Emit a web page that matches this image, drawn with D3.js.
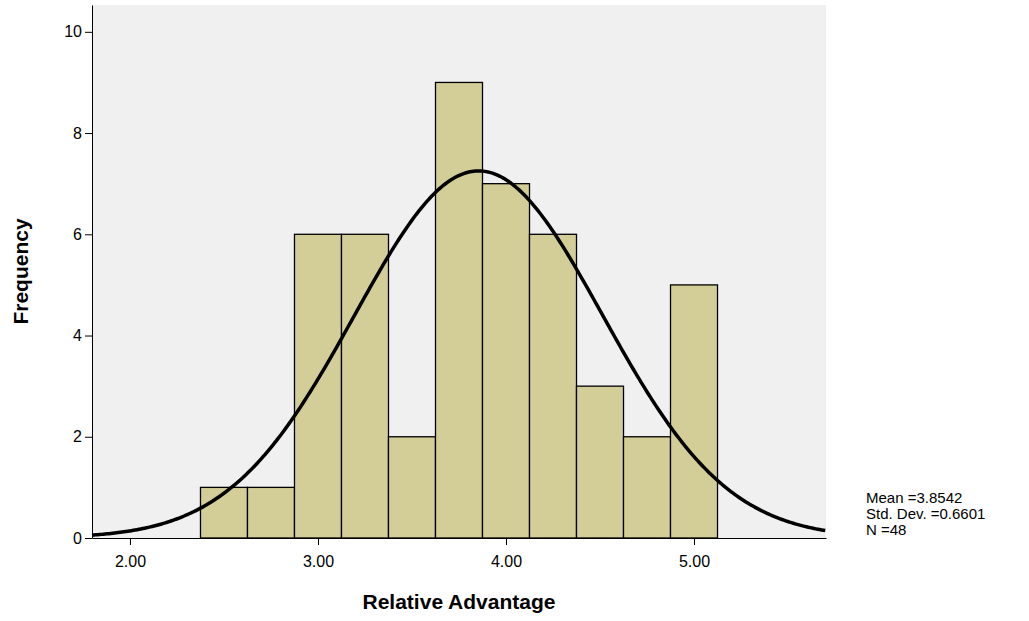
<!DOCTYPE html>
<html><head><meta charset="utf-8">
<script src="https://cdn.jsdelivr.net/npm/d3@7"></script>
<style>body{margin:0;background:#fff;font-family:"Liberation Sans",Arial,sans-serif}</style>
</head><body><div id="chart"></div>
<script>
// Histogram bins (lower edges), counts
const binStarts = [2.375, 2.625, 2.875, 3.125, 3.375, 3.625, 3.875, 4.125, 4.375, 4.625, 4.875];
const binWidth = 0.25;
const counts = [1, 1, 6, 6, 2, 9, 7, 6, 3, 2, 5];
const xTicks = [2, 3, 4, 5];
const yTicks = [0, 2, 4, 6, 8, 10];
const stats = {mean: 3.8542, sd: 0.6601, n: 48};
const statLines = ["Mean =3.8542", "Std. Dev. =0.6601", "N =48"];

const width = 1029, height = 621;
const margin = {left: 92, top: 5, right: 203, bottom: 83};
const w = width - margin.left - margin.right, h = height - margin.top - margin.bottom;

const svg = d3.select("#chart").append("svg").attr("width", width).attr("height", height);
const g = svg.append("g").attr("transform", `translate(${margin.left},${margin.top})`);

const x = d3.scaleLinear().domain([1.798, 5.702]).range([0, w]);
const y = d3.scaleLinear().domain([0, 10.53]).range([h, 0]);

g.append("rect").attr("width", w).attr("height", h).attr("fill", "#f0f0f0");

g.selectAll("rect.bar").data(binStarts).enter().append("rect")
  .attr("class", "bar")
  .attr("x", d => x(d)).attr("width", d => x(d + binWidth) - x(d))
  .attr("y", (d, i) => y(counts[i])).attr("height", (d, i) => h - y(counts[i]))
  .attr("fill", "#d3ce97").attr("stroke", "#000").attr("stroke-width", 1.3);

// fitted normal curve
const scaleF = stats.n * binWidth / (stats.sd * Math.sqrt(2 * Math.PI));
const curve = d3.range(1.798, 5.7021, 0.01).map(v => [v, scaleF * Math.exp(-0.5 * ((v - stats.mean) / stats.sd) ** 2)]);
g.append("path").datum(curve)
  .attr("d", d3.line().x(d => x(d[0])).y(d => y(d[1])))
  .attr("fill", "none").attr("stroke", "#000").attr("stroke-width", 3.5);

const xa = g.append("g").attr("transform", `translate(0,${h})`)
  .call(d3.axisBottom(x).tickValues(xTicks).tickFormat(d3.format(".2f")).tickSize(7).tickSizeOuter(0));
const ya = g.append("g")
  .call(d3.axisLeft(y).tickValues(yTicks).tickSize(7).tickSizeOuter(0));
[xa, ya].forEach(a => {
  a.attr("font-size", 16).attr("font-family", "Liberation Sans, Arial");
  a.selectAll("text").attr("fill", "#000");
  a.selectAll("line,path").attr("stroke", "#000");
});
xa.selectAll("text").attr("dy", "1.2em");

svg.append("text").attr("x", margin.left + w / 2).attr("y", 609)
  .attr("text-anchor", "middle").attr("font-weight", "bold").attr("font-size", 21)
  .text("Relative Advantage");
svg.append("text").attr("transform", `translate(28,${margin.top + h / 2}) rotate(-90)`)
  .attr("text-anchor", "middle").attr("font-weight", "bold").attr("font-size", 21)
  .text("Frequency");

svg.selectAll("text.stat").data(statLines).enter().append("text")
  .attr("class", "stat").attr("x", 866).attr("y", (d, i) => 503 + i * 16)
  .attr("font-size", 15).text(d => d);
</script></body></html>
